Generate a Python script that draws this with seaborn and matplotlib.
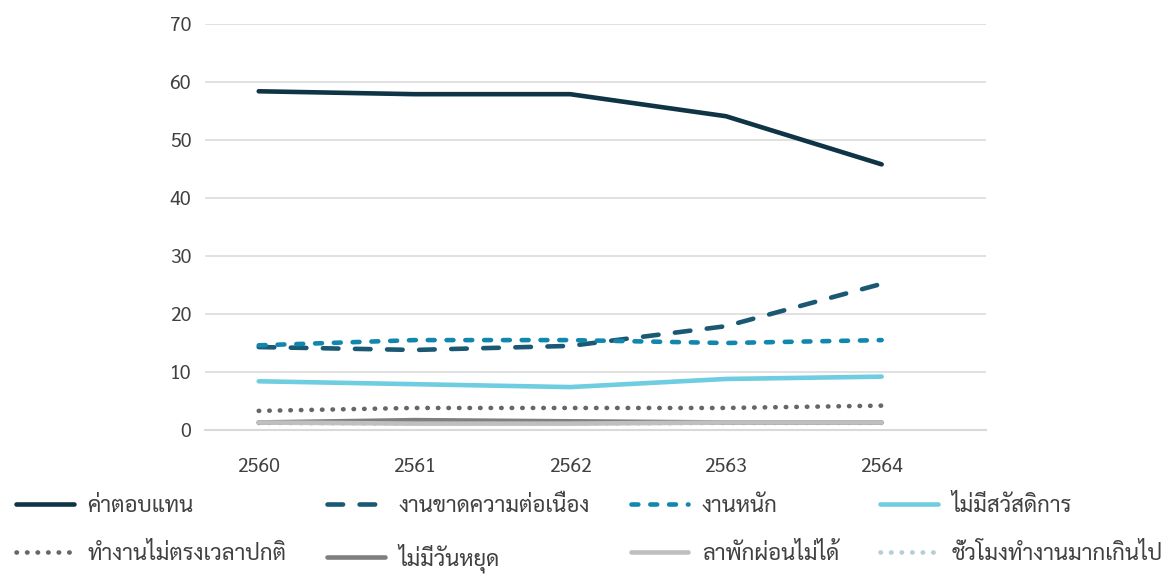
import matplotlib
matplotlib.use("Agg")
import matplotlib.pyplot as plt
from matplotlib.lines import Line2D
import pandas as pd
import seaborn as sns

# years (Thai Buddhist era) and the share for each problem
years = [2560, 2561, 2562, 2563, 2564]
series_names = [
    "ค่าตอบแทน", "งานขาดความต่อเนื่อง", "งานหนัก", "ไม่มีสวัสดิการ",
    "ทำงานไม่ตรงเวลาปกติ", "ไม่มีวันหยุด", "ลาพักผ่อนไม่ได้", "ชั่วโมงทำงานมากเกินไป",
]
pay = [58.4, 57.9, 57.9, 54.1, 45.8]
discontinuous = [14.3, 13.8, 14.5, 17.9, 25.2]
heavy_work = [14.6, 15.5, 15.5, 15.0, 15.5]
no_welfare = [8.4, 7.9, 7.4, 8.8, 9.2]
irregular_hours = [3.3, 3.8, 3.8, 3.8, 4.2]
no_holiday = [1.3, 1.7, 1.5, 1.3, 1.3]
no_leave = [1.3, 1.1, 1.1, 1.3, 1.3]
overtime = [1.2, 1.1, 1.1, 1.2, 1.2]
values = [pay, discontinuous, heavy_work, no_welfare,
          irregular_hours, no_holiday, no_leave, overtime]

colors = ["#0E3445", "#1A5873", "#1287AD", "#6ECDE0",
          "#666666", "#7F7F7F", "#BFBFBF", "#B6CED3"]
dashes = [None, (3.4, 3.6), (1.5, 2.6), None,
          (0.1, 2.2), None, None, (0.1, 2.2)]
# hidden series goes underneath
draw_order = [7, 0, 1, 2, 3, 4, 5, 6]

rows = []
for name, vals in zip(series_names, values):
    for yr, v in zip(years, vals):
        rows.append({"year": yr, "series": name, "value": v})
df = pd.DataFrame(rows)

sns.set_style("white")
plt.rcParams["font.family"] = ["Sarabun", "DejaVu Sans"]

fig = plt.figure(figsize=(11.76, 5.77), dpi=100)
ax = fig.add_axes([205 / 1176, 1 - 430 / 577, 781 / 1176, 406 / 577])

lw = 3.3
for z, i in enumerate(draw_order):
    sub = df[df["series"] == series_names[i]]
    sns.lineplot(data=sub, x="year", y="value", color=colors[i], lw=lw,
                 ax=ax, legend=False, zorder=3 + z)
    line = ax.lines[-1]
    line.set_solid_capstyle("round")
    line.set_dash_capstyle("round")
    if dashes[i] is not None:
        line.set_dashes(dashes[i])

ax.set_xlim(2559.655, 2564.67)
ax.set_ylim(0, 70)
ax.set_xticks(years)
ax.set_yticks(range(0, 71, 10))
ax.set_xlabel("")
ax.set_ylabel("")
ax.grid(axis="y", color="#D9D9D9", lw=1.1)
ax.grid(axis="x", visible=False)
for s in ["left", "right", "top"]:
    ax.spines[s].set_visible(False)
ax.spines["bottom"].set_color("#D9D9D9")
ax.spines["bottom"].set_linewidth(1.5)
ax.tick_params(axis="both", length=0, labelsize=14, labelcolor="#404040")
ax.tick_params(axis="y", pad=10)
ax.tick_params(axis="x", pad=20)

handles = []
for i in range(8):
    h = Line2D([], [], color=colors[i], lw=lw, solid_capstyle="round",
               dash_capstyle="round")
    if dashes[i] is not None:
        h.set_dashes(dashes[i])
    handles.append(h)
# matplotlib fills legend columns first, so reorder for row-wise reading
order = [0, 4, 1, 5, 2, 6, 3, 7]
fig.legend([handles[i] for i in order], [series_names[i] for i in order],
           ncol=4, loc="lower left", bbox_to_anchor=(0.006, -0.008, 0.99, 0.2),
           mode="expand", frameon=False, fontsize=16, handlelength=2.6,
           handletextpad=0.6, labelspacing=1.2, borderaxespad=0,
           labelcolor="#404040")

fig.savefig("out.png", dpi=100)
